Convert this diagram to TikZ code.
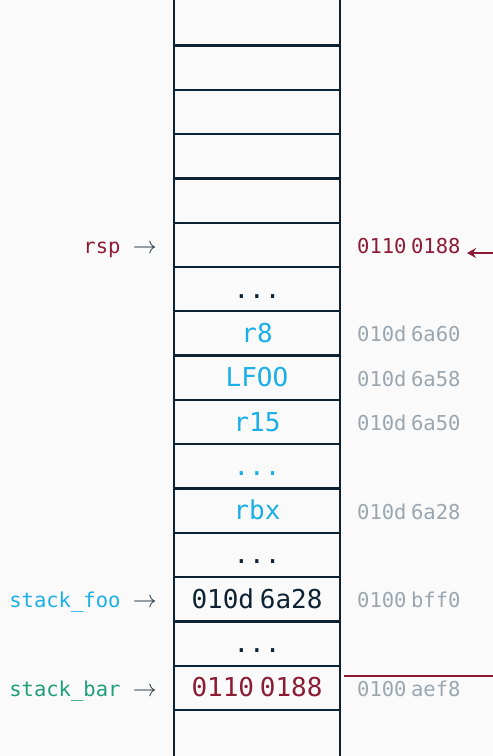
\documentclass[tikz,border=0pt]{standalone}
\usepackage{fix-cm}
\usepackage{fontspec}
\setmonofont{DejaVu Sans Mono}
\usetikzlibrary{arrows.meta}
\definecolor{bg}{HTML}{FAFAFA}
\definecolor{navy}{HTML}{0D2233}
\definecolor{redv}{HTML}{8C1C35}
\definecolor{cyanv}{HTML}{1AAFE6}
\definecolor{greenv}{HTML}{1F9E7A}
\definecolor{grayv}{HTML}{9AA6B0}
\definecolor{arrowc}{HTML}{2E3D48}
\tikzset{
  cell/.style={inner sep=0pt, font=\fontsize{26}{30}\selectfont\ttfamily, anchor=base},
  addr/.style={inner sep=0pt, anchor=base west, font=\fontsize{20.5}{24}\selectfont\ttfamily, text=grayv},
  ptr/.style={inner sep=0pt, anchor=base east, font=\fontsize{20.5}{24}\selectfont\ttfamily},
  wall/.style={draw=navy, line width=2.3pt},
  sep/.style={draw=navy, line width=2.3pt},
  redline/.style={draw=redv, line width=2pt}
}
\newcommand{\ts}{\hspace{0.22em}}
\newcommand{\parr}{\textcolor{arrowc}{\fontsize{24}{24}\selectfont$\to$}}
\begin{document}
\begin{tikzpicture}[x=1pt,y=-1pt]
\useasboundingbox (0,0) rectangle (493,756);
\fill[bg] (0,0) rectangle (493,756);
% separators
\foreach \k in {0,...,15}{
  \draw[sep] (174,{45.5+44.3*\k}) -- (340,{45.5+44.3*\k});
}
\draw[wall] (174,0) -- (174,756);
\draw[wall] (340,0) -- (340,756);
% cell contents (cell k baseline = 67.65+44.3*k+9)
\node[cell, text=navy]  (c5)  at (257,{76.65+44.3*5}) {...};
\node[cell, text=cyanv] (c6)  at (257,{76.65+44.3*6}) {r8};
\node[cell, text=cyanv] (c7)  at (257,{76.65+44.3*7}) {LFOO};
\node[cell, text=cyanv] (c8)  at (257,{76.65+44.3*8}) {r15};
\node[cell, text=cyanv] (c9)  at (257,{76.65+44.3*9}) {...};
\node[cell, text=cyanv] (c10) at (257,{76.65+44.3*10}) {rbx};
\node[cell, text=navy]  (c11) at (257,{76.65+44.3*11}) {...};
\node[cell, text=navy]  (c12) at (257,{76.65+44.3*12}) {010d\ts6a28};
\node[cell, text=navy]  (c13) at (257,{76.65+44.3*13}) {...};
\node[cell, text=redv]  (c14) at (257,{76.65+44.3*14}) {0110\ts0188};
% addresses
\node[addr, text=redv] (a4)  at (357,{76.15+44.3*4}) {0110\ts0188};
\node[addr] (a6)  at (357,{76.15+44.3*6}) {010d\ts6a60};
\node[addr] (a7)  at (357,{76.15+44.3*7}) {010d\ts6a58};
\node[addr] (a8)  at (357,{76.15+44.3*8}) {010d\ts6a50};
\node[addr] (a10) at (357,{76.15+44.3*10}) {010d\ts6a28};
\node[addr] (a12) at (357,{76.15+44.3*12}) {0100\ts bff0};
\node[addr] (a14) at (357,{76.15+44.3*14}) {0100\ts aef8};
% pointers
\node[ptr] (rsp) at (157,{76.15+44.3*4}) {\textcolor{redv}{rsp} \parr};
\node[ptr] (sfoo) at (157,{76.15+44.3*12}) {\textcolor{cyanv}{stack\_foo} \parr};
\node[ptr] (sbar) at (157,{76.15+44.3*14}) {\textcolor{greenv}{stack\_bar} \parr};
% red links
\coordinate (rin) at (493,253);
\coordinate (rtip) at (467,253);
\draw[redline, -{Stealth[length=9pt,width=10pt,inset=3pt]}] (rin) -- (rtip);
\coordinate (bstart) at (344,676);
\coordinate (bend) at (493,676);
\draw[redline] (bstart) -- (bend);
\end{tikzpicture}
\end{document}
